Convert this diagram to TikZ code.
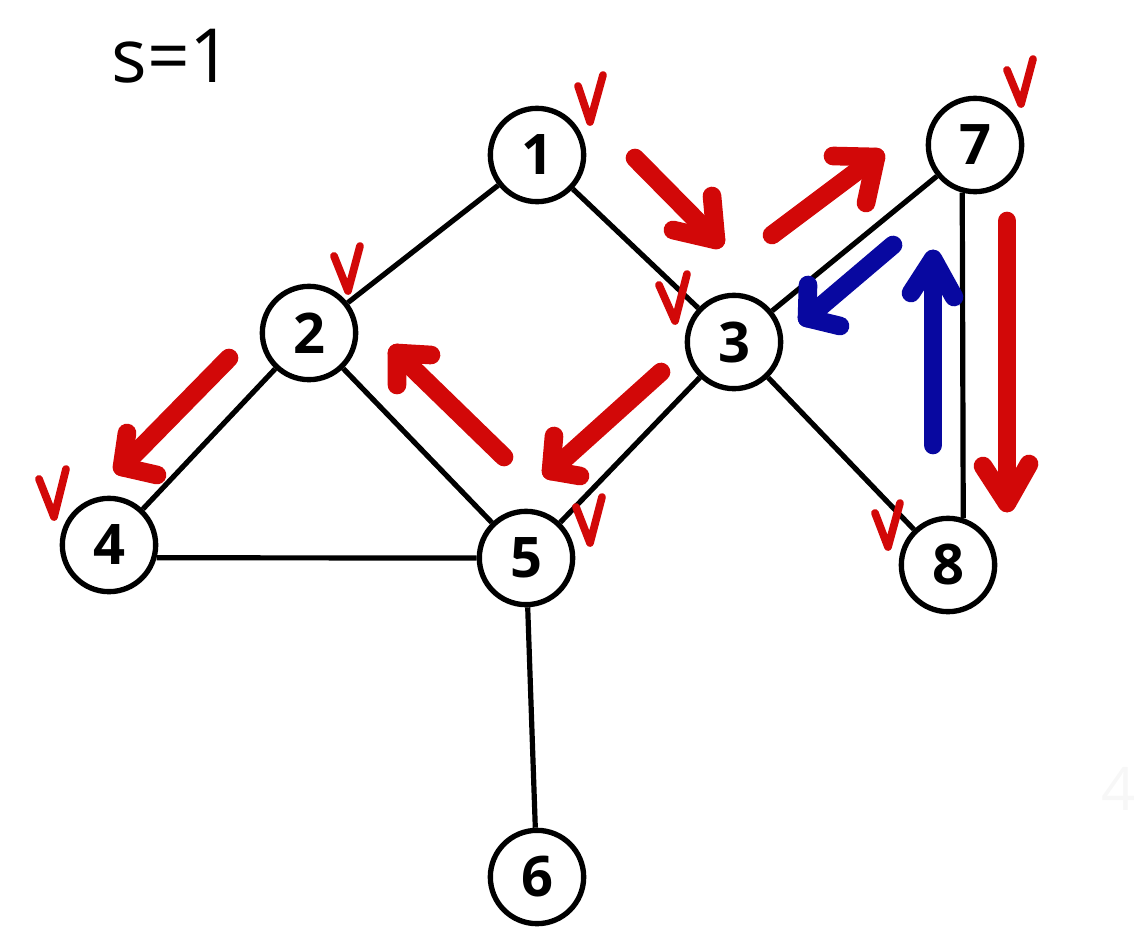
\documentclass[tikz,border=0pt]{standalone}
\usepackage{fontspec}
\setmainfont{Open Sans}
\usetikzlibrary{calc}
\definecolor{mred}{RGB}{210,8,8}
\definecolor{mblue}{RGB}{8,8,160}
\begin{document}
\begin{tikzpicture}[x=0.75pt,y=-0.75pt,
  vertex/.style={circle,draw=black,line width=4pt,minimum size=70pt,inner sep=0pt,fill=white,font=\fontsize{42}{42}\selectfont\bfseries},
  edge/.style={line width=3.9pt},
  redarr/.style={draw=mred,line width=14pt,line cap=round,line join=round},
  bluearr/.style={draw=mblue,line width=14pt,line cap=round,line join=round},
  tick/.style={draw=mred,line width=5.8pt,line cap=round,line join=round}]
\useasboundingbox (0,0) rectangle (1134,949);

% title
\node[font=\fontsize{56}{56}\selectfont,inner sep=0pt] (title) at (172,56) {s=1};
\node[font=\fontsize{45}{45}\selectfont,text=black!3,inner sep=0pt,anchor=west] (faint) at (1101,789) {4};

% vertices
\node[vertex] (n1) at (537,155) {1};
\node[vertex] (n2) at (309,333) {2};
\node[vertex] (n3) at (734,342) {3};
\node[vertex] (n4) at (109,545) {4};
\node[vertex] (n5) at (526,558) {5};
\node[vertex] (n6) at (537,877) {6};
\node[vertex] (n7) at (975,145) {7};
\node[vertex] (n8) at (948,565) {8};

% edges
\draw[edge] (n1) -- (n2);
\draw[edge] (n1) -- (n3);
\draw[edge] (n2) -- (n4);
\draw[edge] (n2) -- (n5);
\draw[edge] (n3) -- (n5);
\draw[edge] (n3) -- (n7);
\draw[edge] (n3) -- (n8);
\draw[edge] (n4.-15) -- (n5.west);
\draw[edge] (n5) -- (n6);
\draw[edge] (n7.-105) -- (n8.72);

% red arrows: tail, tip, wings
\coordinate (a1t) at (635,158); \coordinate (a1h) at (716,240);
\coordinate (a1w1) at (712,196); \coordinate (a1w2) at (673,230);
\draw[redarr] (a1t) -- (a1h); \draw[redarr] (a1w1) -- (a1h) -- (a1w2);

\coordinate (a2t) at (772,235); \coordinate (a2h) at (876,157);
\coordinate (a2w1) at (833,156); \coordinate (a2w2) at (866,203);
\draw[redarr] (a2t) -- (a2h); \draw[redarr] (a2w1) -- (a2h) -- (a2w2);

\coordinate (a3t) at (1007,221); \coordinate (a3h) at (1007,503);
\coordinate (a3w1) at (983,466); \coordinate (a3w2) at (1029,464);
\draw[redarr] (a3t) -- (a3h); \draw[redarr] (a3w1) -- (a3h) -- (a3w2);

\coordinate (a4t) at (661,372); \coordinate (a4h) at (551,471);
\coordinate (a4w1) at (554,436); \coordinate (a4w2) at (580,476);
\draw[redarr] (a4t) -- (a4h); \draw[redarr] (a4w1) -- (a4h) -- (a4w2);

\coordinate (a5t) at (504,457); \coordinate (a5h) at (397,353);
\coordinate (a5w1) at (397,385); \coordinate (a5w2) at (431,355);
\draw[redarr] (a5t) -- (a5h); \draw[redarr] (a5w1) -- (a5h) -- (a5w2);

\coordinate (a6t) at (229,358); \coordinate (a6h) at (122,467);
\coordinate (a6w1) at (127,433); \coordinate (a6w2) at (157,475);
\draw[redarr] (a6t) -- (a6h); \draw[redarr] (a6w1) -- (a6h) -- (a6w2);

% blue arrows
\coordinate (b1t) at (893,245); \coordinate (b1h) at (807,318);
\coordinate (b1w1) at (808,285); \coordinate (b1w2) at (840,326);
\draw[bluearr] (b1t) -- (b1h); \draw[bluearr] (b1w1) -- (b1h) -- (b1w2);

\coordinate (b2t) at (933,445); \coordinate (b2h) at (933,259);
\coordinate (b2w1) at (911,293); \coordinate (b2w2) at (954,297);
\draw[bluearr] (b2t) -- (b2h); \draw[bluearr] (b2w1) -- (b2h) -- (b2w2);

% check marks
\draw[tick] (578,86) -- (590,122) -- (603,75);
\draw[tick] (1007,70) -- (1021,104) -- (1033,59);
\draw[tick] (334,256) -- (348,291) -- (360,246);
\draw[tick] (659,285) -- (675,321) -- (687,274);
\draw[tick] (39,479) -- (54,517) -- (66,469);
\draw[tick] (576,507) -- (590,543) -- (602,497);
\draw[tick] (875,513) -- (888,547) -- (900,503);
\end{tikzpicture}
\end{document}
